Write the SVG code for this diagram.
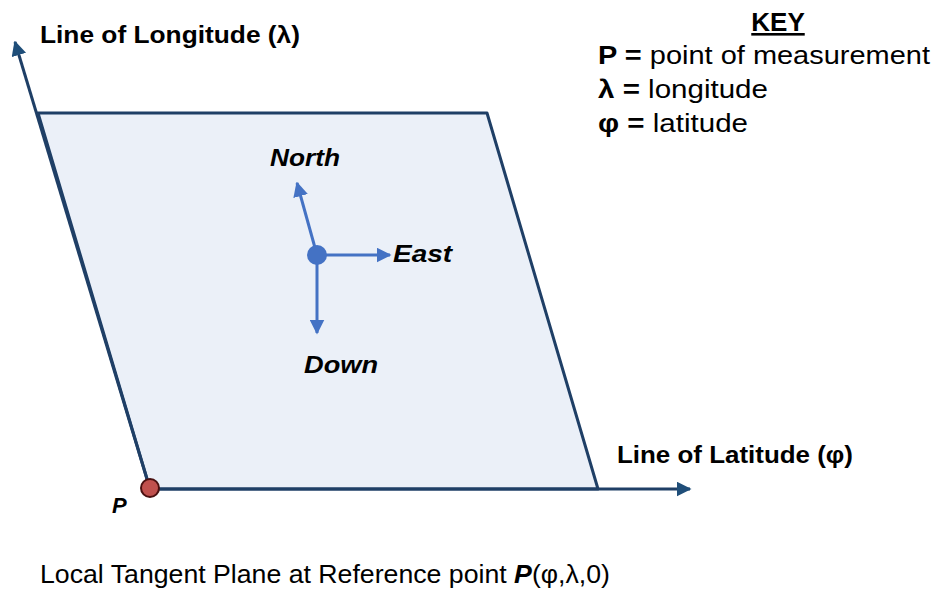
<svg xmlns="http://www.w3.org/2000/svg" width="940" height="590" viewBox="0 0 940 590">
<style>
text{font-family:"Liberation Sans",Arial,sans-serif;fill:#000}
.axis{stroke:#1F3F66;stroke-width:3;fill:none}
.dir{stroke:#4472C4;stroke-width:3;fill:none}
.lbl{font-weight:bold;font-size:24px}
.dl{font-weight:bold;font-style:italic;font-size:23px}
.key{font-size:25px}
</style>
<defs>
<marker id="ah" viewBox="0 0 10 10" refX="9" refY="5" markerWidth="5" markerHeight="5" orient="auto" markerUnits="strokeWidth"><path d="M0,0L10,5L0,10z" fill="#1F4E79"/></marker>
<marker id="ab" viewBox="0 0 10 10" refX="9" refY="5" markerWidth="5" markerHeight="5" orient="auto" markerUnits="strokeWidth"><path d="M0,0L10,5L0,10z" fill="#4472C4"/></marker>
</defs>
<g id="plane">
<polygon points="38,113 487,113 598,489 150,489" fill="#EBF0F8" stroke="#1F3F66" stroke-width="3" stroke-linejoin="round"/>
</g>
<g id="connectors">
<line class="axis" x1="150" y1="489" x2="15" y2="42" marker-end="url(#ah)"/>
<line class="axis" x1="150" y1="489" x2="690" y2="489" marker-end="url(#ah)"/>
<line class="dir" x1="317" y1="255" x2="297" y2="183" marker-end="url(#ab)"/>
<line class="dir" x1="317" y1="255" x2="390" y2="255" marker-end="url(#ab)"/>
<line class="dir" x1="317" y1="255" x2="317" y2="333" marker-end="url(#ab)"/>
</g>
<g id="center"><circle cx="317" cy="255" r="10" fill="#4472C4"/></g>
<g id="pointP"><circle cx="150" cy="488" r="9" fill="#C0504D" stroke="#4A1010" stroke-width="2"/>
<text x="112" y="513" class="dl" style="font-size:22px">P</text></g>
<g id="labels">
<text x="40" y="43" class="lbl" textLength="260" lengthAdjust="spacingAndGlyphs">Line of Longitude (λ)</text>
<text x="617" y="463" class="lbl" textLength="236" lengthAdjust="spacingAndGlyphs">Line of Latitude (φ)</text>
<text x="270" y="166" class="dl" textLength="70" lengthAdjust="spacingAndGlyphs">North</text>
<text x="393" y="262" class="dl" textLength="59" lengthAdjust="spacingAndGlyphs">East</text>
<text x="304" y="373" class="dl" textLength="74" lengthAdjust="spacingAndGlyphs">Down</text>
</g>
<g id="key">
<text x="778" y="31" text-anchor="middle" style="font-weight:bold;font-size:26px" text-decoration="underline">KEY</text>
<text x="598" y="64" class="key" textLength="332" lengthAdjust="spacingAndGlyphs"><tspan font-weight="bold">P =</tspan> point of measurement</text>
<text x="598" y="98" class="key" textLength="170" lengthAdjust="spacingAndGlyphs"><tspan font-weight="bold">λ =</tspan> longitude</text>
<text x="598" y="132" class="key" textLength="150" lengthAdjust="spacingAndGlyphs"><tspan font-weight="bold">φ =</tspan> latitude</text>
</g>
<g id="caption">
<text x="40" y="583" style="font-size:25px" textLength="570" lengthAdjust="spacingAndGlyphs">Local Tangent Plane at Reference point <tspan font-weight="bold" font-style="italic">P</tspan>(φ,λ,0)</text>
</g>
</svg>
